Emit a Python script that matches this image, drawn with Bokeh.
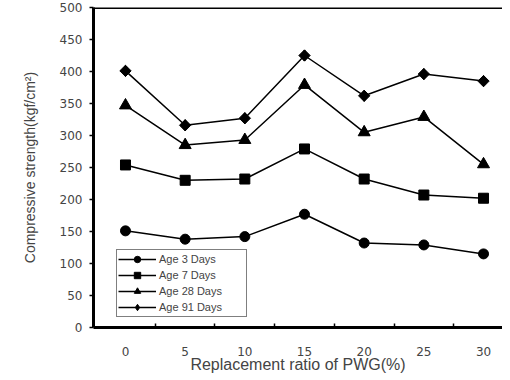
import math
from bokeh.plotting import figure
from bokeh.models import FixedTicker, Span, Legend, LegendItem, ColumnDataSource
from bokeh.embed import file_html
from bokeh.resources import INLINE

ratios = [0, 5, 10, 15, 20, 25, 30]
age3 = [151, 138, 142, 177, 132, 129, 115]
age7 = [254, 230, 232, 279, 232, 207, 202]
age28 = [347, 285, 293, 379, 305, 329, 255]
age91 = [401, 316, 327, 425, 362, 396, 385]
series_names = ["Age 3 Days", "Age 7 Days", "Age 28 Days", "Age 91 Days"]
y_ticks = list(range(0, 501, 50))
x_minor = [2.5, 7.5, 12.5, 17.5, 22.5, 27.5]

FONT = "Liberation Sans"

p = figure(width=502, height=377, x_range=(-2.68, 31.59), y_range=(0, 500),
           output_backend="svg", toolbar_location=None,
           min_border_left=93, min_border_right=0, min_border_top=7,
           min_border_bottom=50)
p.outline_line_color = None
p.xgrid.visible = False
p.ygrid.visible = False
p.background_fill_color = "white"
p.border_fill_color = "white"

# x axis
p.xaxis.ticker = FixedTicker(ticks=ratios, minor_ticks=x_minor)
p.xaxis.major_tick_in = 0
p.xaxis.major_tick_out = 0
p.xaxis.minor_tick_in = 4
p.xaxis.minor_tick_out = 0
p.xaxis.minor_tick_line_width = 1.5
p.xaxis.axis_line_width = 3
p.xaxis.major_label_standoff = 19
p.xaxis.axis_label = "Replacement ratio of PWG(%)"
p.xaxis.axis_label_standoff = -3
p.xaxis.axis_label_text_font = FONT
p.xaxis.axis_label_text_font_style = "normal"
p.xaxis.axis_label_text_font_size = "16px"
p.xaxis.major_label_text_font = "DejaVu Sans"
p.xaxis.major_label_text_font_size = "12px"

# y axis
p.yaxis.ticker = FixedTicker(ticks=y_ticks)
p.yaxis.minor_tick_line_color = None
p.yaxis.major_tick_in = 0
p.yaxis.major_tick_out = 4
p.yaxis.major_tick_line_width = 1.5
p.yaxis.axis_line_width = 3
p.yaxis.major_label_standoff = 7
p.yaxis.axis_label = "Compressive strength(kgf/cm\u00b2)"
p.yaxis.axis_label_standoff = 19
p.yaxis.axis_label_text_font = FONT
p.yaxis.axis_label_text_font_style = "normal"
p.yaxis.axis_label_text_font_size = "14px"
p.yaxis.major_label_text_font = "DejaVu Sans"
p.yaxis.major_label_text_font_size = "12px"

# top border
p.add_layout(Span(location=500, dimension="width", line_color="black", line_width=3))

markers = ["circle", "square", "triangle", "square"]
sizes = [10, 10, 12, 8]
angles = [0, 0, 0, math.pi / 4]
legend_markers = ["circle", "square", "triangle", "diamond"]
legend_sizes = [8, 8, 9, 11]
items = []
for name, vals, mk, sz, ang, lmk, lsz in zip(series_names, [age3, age7, age28, age91],
                                             markers, sizes, angles, legend_markers, legend_sizes):
    src = ColumnDataSource(dict(x=ratios, y=vals))
    ln = p.line("x", "y", source=src, line_color="black", line_width=1.5)
    # smaller marker used for the legend; fully covered by the plotted marker
    lg = p.scatter("x", "y", source=src, marker=lmk, size=lsz,
                   fill_color="black", line_color="black")
    p.scatter("x", "y", source=src, marker=mk, size=sz, angle=ang,
              fill_color="black", line_color="black")
    items.append(LegendItem(label=name, renderers=[ln, lg]))

legend = Legend(items=items, location=(23, 10), orientation="vertical",
                glyph_width=38, glyph_height=16, label_height=16, spacing=0,
                padding=1, margin=0, label_width=86, label_standoff=3,
                label_text_font=FONT, label_text_font_size="11px",
                border_line_color="black", border_line_width=1.5,
                background_fill_color="white", background_fill_alpha=1)
p.add_layout(legend, "center")

open("out.html", "w").write(file_html(p, INLINE))
